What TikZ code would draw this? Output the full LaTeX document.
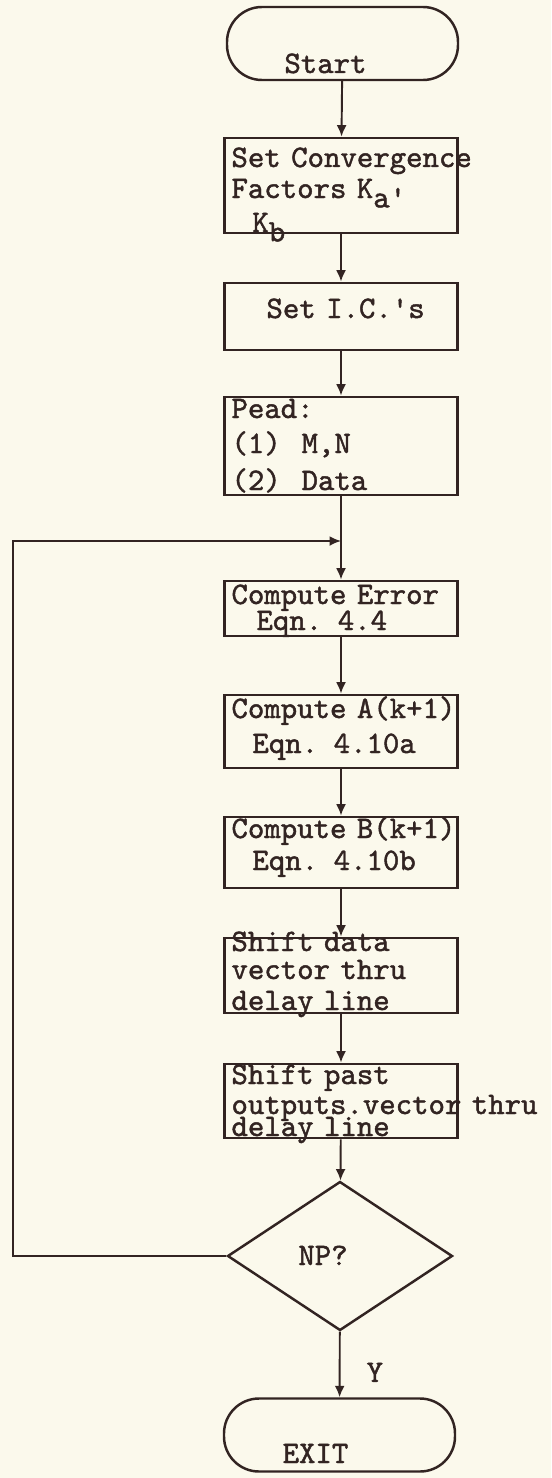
\documentclass[tikz,border=0pt]{standalone}
\usepackage{fontspec}
\setmonofont{lmmono10-regular.otf}[RawFeature={embolden=1.4}]
\usetikzlibrary{arrows.meta,shapes.geometric,positioning}

\definecolor{paper}{RGB}{251,249,236}
\definecolor{ink}{RGB}{50,36,34}

\newcommand{\typed}{\ttfamily\fontsize{17.8pt}{0pt}\selectfont\lineskiplimit=-10cm\relax}
\newcommand{\low}[1]{\smash{\raisebox{-0.3em}{#1}}}

\begin{document}
\begin{tikzpicture}[
    terminal/.style={rectangle, draw=ink, text=ink, rounded corners=0.7cm, line width=1.4pt,
        minimum width=4.62cm, minimum height=1.46cm, inner sep=0pt, font=\typed},
    stepbox/.style={rectangle, draw=ink, text=ink, line width=1.6pt, text width=4.38cm,
        inner xsep=0.14cm, inner ysep=0pt, align=left, font=\typed},
    decision/.style={diamond, draw=ink, text=ink, line width=1.4pt, minimum width=4.5cm,
        minimum height=2.98cm, inner sep=0pt, font=\typed},
    arrow/.style={-{Latex[length=2.3mm,width=2mm]}, line width=1.1pt, draw=ink}
]
    % Page
    \fill[paper] (0,0) rectangle (11.02,-29.56);
    \useasboundingbox (0,0) rectangle (11.02,-29.56);

    % Nodes
    \node[terminal, text height=1.18cm, text depth=0cm] (start) at (6.85,-0.87) {Start\hspace*{0.68cm}};
    \node[stepbox, text height=0.58cm, text depth=1.32cm] (conv) at (6.82,-3.71)
        {\mbox{Set Convergence}\\[0.62cm]Factors K\low{a'}\\[0.68cm]~~K\low{b}};
    \node[stepbox, text height=0.70cm, text depth=0.64cm] (ics) at (6.82,-6.33)
        {\hspace*{0.70cm}Set I.C.'s};
    \node[stepbox, text height=0.42cm, text depth=1.54cm] (read) at (6.82,-8.92)
        {Pead:\\[0.70cm](1)~~M,N\\[0.74cm](2)~~Data};
    \node[stepbox, text height=0.46cm, text depth=0.64cm] (err) at (6.82,-12.17)
        {Compute Error\\[0.52cm]\hspace*{0.5cm}Eqn. 4.4};
    \node[stepbox, text height=0.46cm, text depth=1.00cm] (compa) at (6.82,-14.63)
        {\mbox{Compute A(k+1)}\\[0.70cm]~~Eqn. 4.10a};
    \node[stepbox, text height=0.42cm, text depth=1.00cm] (compb) at (6.82,-17.05)
        {\mbox{Compute B(k+1)}\\[0.64cm]~~Eqn. 4.10b};
    \node[stepbox, text height=0.26cm, text depth=1.24cm] (shdata) at (6.82,-19.51)
        {Shift data\\[0.56cm]vector thru\\[0.62cm]delay line};
    \node[stepbox, text height=0.40cm, text depth=1.08cm] (shpast) at (6.82,-22.02)
        {Shift past\\[0.60cm]\mbox{outputs.vector thru}\\[0.44cm]delay line};
    \node[decision, text height=0.36cm, text depth=0cm] (np) at (6.80,-25.12) {NP?\hspace*{0.68cm}};
    \node[terminal, text height=1.12cm, text depth=0cm] (exit) at (6.79,-28.70) {EXIT\hspace*{0.96cm}};

    \coordinate (join) at (6.82,-10.82);
    \coordinate (back) at (0.26,-10.82);

    % Flow
    \draw[arrow] (start) -- (conv);
    \draw[arrow] (conv) -- (ics);
    \draw[arrow] (ics) -- (read);
    \draw[arrow] (read) -- (err);
    \draw[arrow] (err) -- (compa);
    \draw[arrow] (compa) -- (compb);
    \draw[arrow] (compb) -- (shdata);
    \draw[arrow] (shdata) -- (shpast);
    \draw[arrow] (shpast) -- (np);
    \draw[arrow] (np) -- node[pos=0.62, right, xshift=0.52cm, inner sep=0pt, text=ink, font=\typed] (yes) {Y} (exit);

    % Loop back
    \draw[arrow] (np.west) -| (back) -- (join);
\end{tikzpicture}
\end{document}
